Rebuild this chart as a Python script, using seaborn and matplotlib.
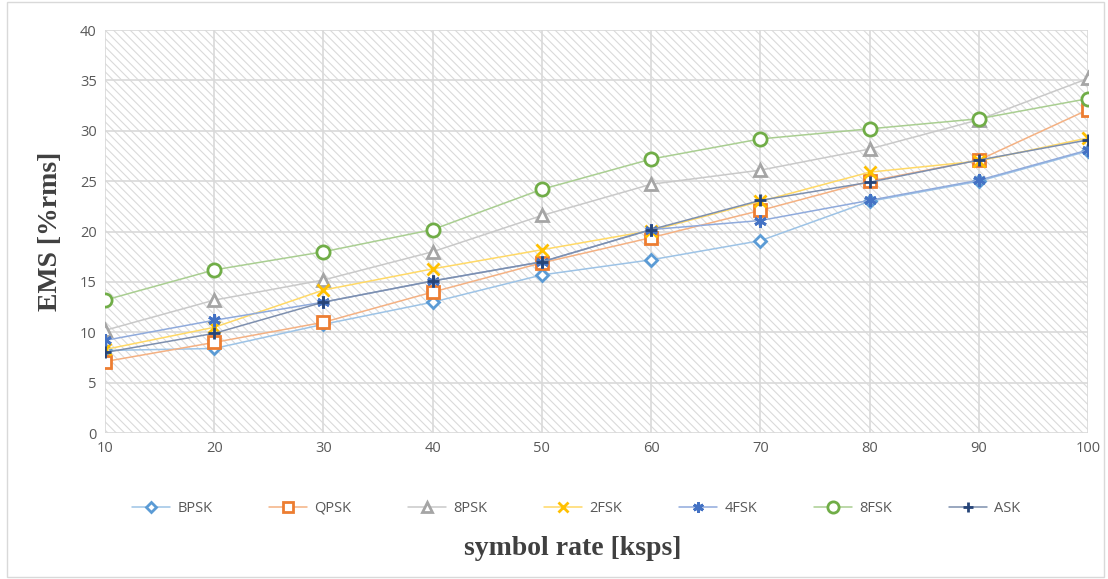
import matplotlib
matplotlib.use("Agg")
import matplotlib.pyplot as plt
import seaborn as sns
import pandas as pd
import numpy as np
from matplotlib.patches import Rectangle
import matplotlib.colors as mcolors

symbol_rate = [10, 20, 30, 40, 50, 60, 70, 80, 90, 100]
bpsk = [8.2, 8.4, 10.8, 13.0, 15.7, 17.2, 19.1, 23.0, 25.0, 28.0]
qpsk = [7.1, 9.0, 11.0, 14.0, 16.9, 19.4, 22.1, 25.0, 27.1, 32.1]
psk8 = [10.2, 13.2, 15.2, 18.0, 21.6, 24.7, 26.1, 28.2, 31.1, 35.2]
fsk2 = [8.3, 10.5, 14.2, 16.3, 18.2, 20.1, 23.0, 25.9, 27.0, 29.3]
fsk4 = [9.2, 11.2, 13.0, 15.1, 17.0, 20.2, 21.1, 23.1, 25.1, 28.1]
fsk8 = [13.2, 16.2, 18.0, 20.2, 24.2, 27.2, 29.2, 30.2, 31.2, 33.2]
ask = [8.0, 9.9, 13.0, 15.1, 17.0, 20.2, 23.1, 24.9, 27.1, 29.1]

series_names = ["BPSK", "QPSK", "8PSK", "2FSK", "4FSK", "8FSK", "ASK"]
series_values = [bpsk, qpsk, psk8, fsk2, fsk4, fsk8, ask]
colors = ["#5B9BD5", "#ED7D31", "#A5A5A5", "#FFC000", "#4472C4", "#70AD47", "#264478"]
markers = ["D", "s", "^", "x", (6, 2, 0), "o", "+"]
msizes = [6, 9, 8, 8, 9, 9.5, 9]
open_m = [True, True, True, False, False, True, False]

rows = []
for name, vals in zip(series_names, series_values):
    for x, v in zip(symbol_rate, vals):
        rows.append({"rate": x, "EMS": v, "mod": name})
df = pd.DataFrame(rows)

sns.set_theme(style="white")
plt.rcParams["font.family"] = ["Open Sans", "DejaVu Sans"]
plt.rcParams["hatch.linewidth"] = 0.8

fig = plt.figure(figsize=(11.08, 5.79), dpi=100)
ax = fig.add_axes([0.0948, 0.252, 0.8872, 0.696])

def lighten(c, a):
    r, g, b = mcolors.to_rgb(c)
    return (1 - a * (1 - r), 1 - a * (1 - g), 1 - a * (1 - b))

for name, col, mk, ms, op in zip(series_names, colors, markers, msizes, open_m):
    sub = df[df["mod"] == name]
    sns.lineplot(data=sub, x="rate", y="EMS", ax=ax, color=lighten(col, 0.6),
                 linewidth=1.1, marker=mk, markersize=ms,
                 markerfacecolor="white" if op else col,
                 markeredgecolor=col, markeredgewidth=2.0,
                 label=name, zorder=3)

handles, labels = ax.get_legend_handles_labels()
if ax.get_legend() is not None:
    ax.get_legend().remove()

ax.set_xlim(10, 100)
ax.set_ylim(0, 40)
ax.set_xticks(symbol_rate)
ax.set_yticks(np.arange(0, 41, 5))
ax.grid(True, color="#D9D9D9", linewidth=1.2)
ax.set_axisbelow(True)
for s in ax.spines.values():
    s.set_visible(False)
ax.tick_params(axis="both", length=0, labelsize=10.5, colors="#595959", pad=6)

hatch = Rectangle((0, 0), 1, 1, transform=ax.transAxes, fill=False,
                  hatch="\\\\\\\\", edgecolor="#DADADA", linewidth=0, zorder=0)
ax.add_patch(hatch)

ax.set_xlabel("symbol rate [ksps]", family="Liberation Serif", fontsize=20,
              fontweight="bold", color="#404040")
ax.set_ylabel("EMS [%rms]", family="Liberation Serif", fontsize=20,
              fontweight="bold", color="#404040", labelpad=12)
ax.xaxis.set_label_coords(0.476, -0.255)

leg = fig.legend(handles, labels, loc="center", bbox_to_anchor=(0.52, 0.122),
                 ncol=7, frameon=False, fontsize=10.5, handlelength=2.6,
                 columnspacing=3.9, handletextpad=0.5, markerscale=0.85)
for t in leg.get_texts():
    t.set_color("#595959")

fig.patches.append(Rectangle((0.006, 0.004), 0.99, 0.992, transform=fig.transFigure,
                             fill=False, edgecolor="#D9D9D9", linewidth=1))

fig.savefig("out.png", dpi=100)
